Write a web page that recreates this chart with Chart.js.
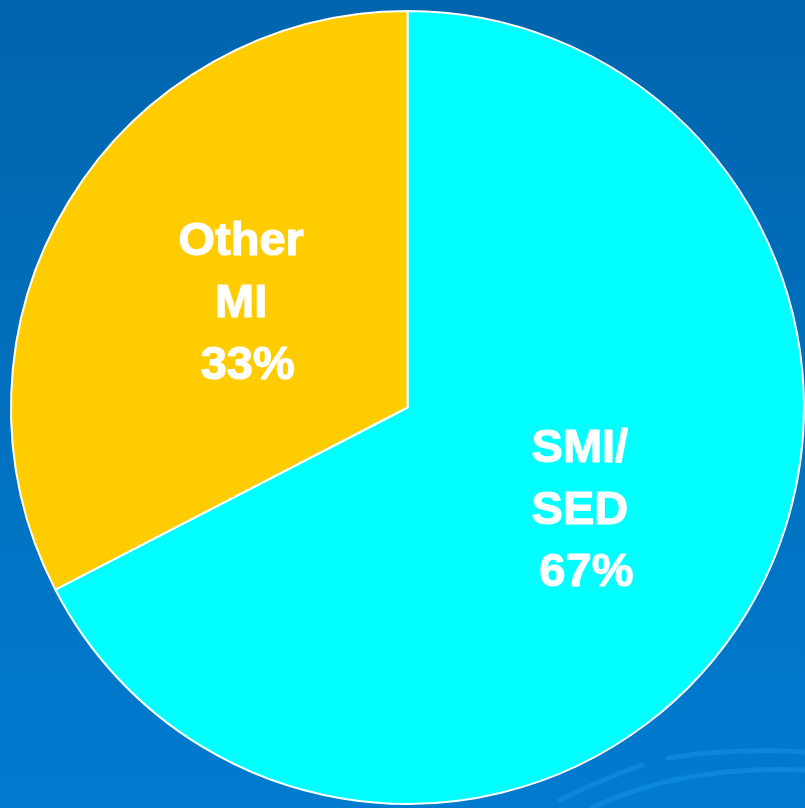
<!DOCTYPE html>
<html lang="en">
<head>
  <meta charset="UTF-8">
  <title>SMI/SED share</title>
  <script src="https://cdn.jsdelivr.net/npm/chart.js"></script>
  <style>
    html, body { margin: 0; padding: 0; background: #006cb6; }
    #wrap { width: 805px; height: 808px; }
  </style>
</head>
<body>
  <div id="wrap"><canvas id="pieChart" width="805" height="808"></canvas></div>

  <script>
    const categories = ['SMI/SED', 'Other MI'];
    const labelLines = [['SMI/', 'SED'], ['Other', 'MI']];
    const values = [67.4, 32.6];
    const colors = ['#00ffff', '#ffcc00'];

    // slide-like backdrop: blue gradient plus faint swooshes bottom right
    const backdrop = {
      id: 'backdrop',
      beforeDraw(chart) {
        const c = chart.ctx;
        const w = chart.width, h = chart.height;
        const g = c.createLinearGradient(0, 0, 0, h);
        g.addColorStop(0, '#0065ad');
        g.addColorStop(1, '#007bcf');
        c.save();
        c.fillStyle = g;
        c.fillRect(0, 0, w, h);
        c.strokeStyle = 'rgba(20, 145, 235, 0.55)';
        c.lineWidth = 5;
        c.lineCap = 'round';
        c.beginPath();
        c.moveTo(668, 758);
        c.quadraticCurveTo(730, 748, 805, 752);
        c.stroke();
        c.beginPath();
        c.moveTo(560, 800);
        c.quadraticCurveTo(600, 780, 642, 765);
        c.stroke();
        c.beginPath();
        c.moveTo(592, 808);
        c.quadraticCurveTo(680, 765, 805, 770);
        c.stroke();
        c.restore();
      }
    };

    const sliceLabels = {
      id: 'sliceLabels',
      afterDatasetsDraw(chart) {
        const c = chart.ctx;
        const meta = chart.getDatasetMeta(0);
        const total = values.reduce((a, b) => a + b, 0);
        c.save();
        c.fillStyle = '#ffffff';
        c.strokeStyle = '#ffffff';
        c.lineWidth = 1.2;
        c.lineJoin = 'round';
        c.font = 'bold 47px "Liberation Sans", Arial, sans-serif';
        c.textAlign = 'center';
        c.textBaseline = 'middle';
        meta.data.forEach((arc, i) => {
          const p = arc.tooltipPosition();
          const lines = labelLines[i].concat([' ' + Math.round(values[i] / total * 100) + '%']);
          const step = 62;
          const y0 = p.y - step * (lines.length - 1) / 2;
          lines.forEach((t, k) => {
            c.fillText(t, p.x + 3, y0 + k * step);
            c.strokeText(t, p.x + 3, y0 + k * step);
          });
        });
        c.restore();
      }
    };

    new Chart(document.getElementById('pieChart'), {
      type: 'pie',
      data: {
        labels: categories,
        datasets: [{
          data: values,
          backgroundColor: colors,
          borderColor: '#ffffff',
          borderWidth: 2
        }]
      },
      options: {
        responsive: false,
        animation: false,
        layout: { padding: { left: 10, right: 0, top: 10, bottom: 3 } },
        plugins: {
          legend: { display: false },
          tooltip: { enabled: false }
        }
      },
      plugins: [backdrop, sliceLabels]
    });
  </script>
</body>
</html>
